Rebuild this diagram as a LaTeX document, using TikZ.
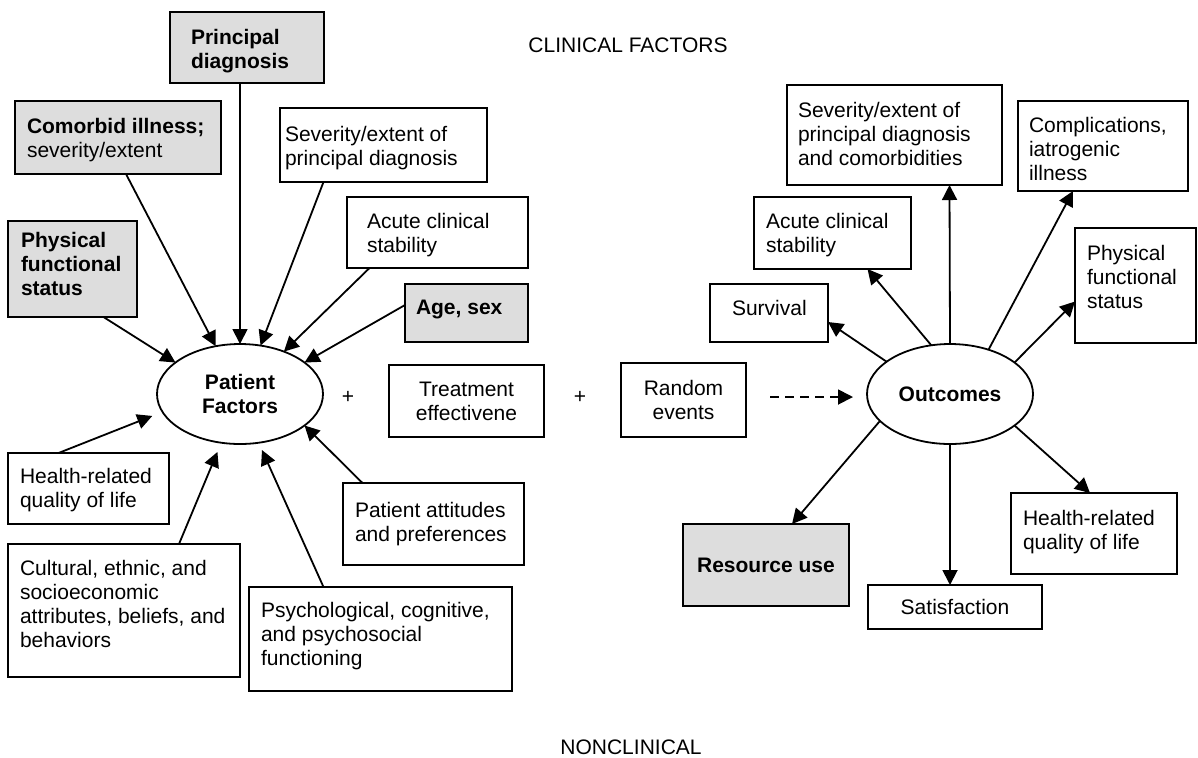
\documentclass[tikz,border=0pt]{standalone}
\usepackage{fontspec}
\setmainfont{Liberation Sans}
\usepackage{xcolor}
\definecolor{boxgray}{HTML}{DDDDDD}
\definecolor{ink}{HTML}{000000}
\usetikzlibrary{calc,arrows.meta,shapes.geometric}
\newcommand{\bxfont}{\fontsize{10.5}{12.05}\selectfont}

\begin{document}
\begin{tikzpicture}[
		x=0.5pt, y=-0.5pt,
		>={Triangle[length=7.5pt,width=7.5pt]},
		% text box: width, height, left pad, top pad (all in px)
		txtbox/.style n args={4}{draw=ink, line width=1pt, anchor=north west, inner xsep=0pt, inner ysep={#4*0.5pt}, outer sep=0pt,
			execute at begin node={\begin{minipage}[c][\dimexpr(#2pt-#4pt-#4pt)/2\relax][t]{\dimexpr#1pt/2\relax}\bxfont\raggedright\leftskip=\dimexpr#3pt/2\relax},
			execute at end node={\end{minipage}}},
		cbox/.style 2 args={draw=ink, line width=1pt, anchor=north west, inner sep=0pt, outer sep=0pt,
			minimum width={#1*0.5pt}, minimum height={#2*0.5pt}, align=center, font=\bxfont},
		grayfill/.style={fill=boxgray},
		oval/.style={draw=ink, ellipse, line width=0.9pt, minimum width=83pt, minimum height=50pt, inner sep=0pt, outer sep=0pt, align=center, font=\bxfont\bfseries},
		link/.style={->, line width=0.9pt, ink},
		plain/.style={font=\bxfont, inner sep=0pt}
	]
		\useasboundingbox (0,0) rectangle (1198,757);

		% Headings
		\node[plain] (clin) at (628,45) {CLINICAL FACTORS};
		\node[plain] (nonclin) at (631,747) {NONCLINICAL};

		% Patient factors side
		\node[txtbox={154}{71}{21}{17}, grayfill] (pd) at (170,12) {\textbf{Principal\\diagnosis}};
		\node[txtbox={206}{73}{12}{17}, grayfill] (cm) at (15,101) {\textbf{Comorbid illness;}\\severity/extent};
		\node[txtbox={207}{74}{5}{18}] (sl) at (280,108) {Severity/extent of\\principal diagnosis};
		\node[txtbox={129}{96}{13}{11}, grayfill] (pl) at (8,221) {\textbf{Physical\\functional\\status}};
		\node[txtbox={181}{71}{20}{16}] (al) at (347,197) {Acute clinical\\stability};
		\node[txtbox={123}{58}{11}{16}, grayfill] (ag) at (405,284) {\textbf{Age, sex}};
		\node[txtbox={161}{71}{12}{15}] (hl) at (8,453) {Health-related\\quality of life};
		\node[txtbox={181}{82}{12}{19}] (pa) at (343,483) {Patient attitudes\\and preferences};
		\node[txtbox={232}{133}{12}{16}] (cu) at (8,544) {Cultural, ethnic, and\\socioeconomic\\attributes, beliefs, and\\behaviors};
		\node[txtbox={263}{104}{12}{15}] (ps) at (249,587) {Psychological, cognitive,\\and psychosocial\\functioning};
		\node[oval] (pf) at (240,394) {Patient\\Factors};

		% Middle terms
		\node[plain] (plusa) at (348,397) {+};
		\node[cbox={155}{72}] (tr) at (389,365) {Treatment\\effectivene};
		\node[plain] (plusb) at (580,397) {+};
		\node[cbox={125}{74}] (re) at (621,363) {Random\\events};

		% Outcomes side
		\node[oval] (oc) at (950,394) {Outcomes};
		\node[txtbox={215}{100}{11}{17}] (sr) at (787,85) {Severity/extent of\\principal diagnosis\\and comorbidities};
		\node[txtbox={170}{90}{11}{16}] (co) at (1018,101) {Complications,\\iatrogenic\\illness};
		\node[txtbox={157}{72}{12}{16}] (ar) at (754,197) {Acute clinical\\stability};
		\node[txtbox={118}{58}{22}{16}] (su) at (710,284) {Survival};
		\node[txtbox={121}{115}{12}{17}] (pr) at (1075,228) {Physical\\functional\\status};
		\node[cbox={166}{82}, grayfill, font=\bxfont\bfseries] (ru) at (683,524) {Resource use};
		\node[cbox={174}{44}] (sa) at (868,585) {Satisfaction};
		\node[txtbox={166}{81}{12}{17}] (hr) at (1011,493) {Health-related\\quality of life};

		% Arrows into patient factors
		\draw[link] ($(pd.south)+(-7,0)$) -- (pf.north);
		\draw[link] ($(cm.south)+(8,0)$) -- (pf.117);
		\draw[link] ($(sl.south)+(-60,0)$) -- (pf.67);
		\draw[link] ($(al.south)+(-68,0)$) -- (pf.44);
		\draw[link] ($(ag.west)+(0,-8)$) -- (pf.26);
		\draw[link] ($(pl.south)+(31,0)$) -- (pf.154);
		\draw[link, shorten >=5.5pt] ($(hl.north)+(-30,0)$) -- (pf.193);
		\draw[link, shorten >=5pt] ($(cu.north)+(55,0)$) -- (pf.249);
		\draw[link, shorten >=4pt] ($(ps.north)+(-57,0)$) -- (pf.291);
		\draw[link] ($(pa.north)+(-71,0)$) -- (pf.334);

		% Random events lead to outcomes
		\draw[link, dash pattern=on 4.5pt off 3pt] ($(re.east)+(24,-3)$) -- ($(oc.west)+(-14,3)$);

		% Arrows out of outcomes
		\draw[link] (oc.north) -- ($(sr.south)+(55,0)$);
		\draw[link] (oc.111) -- ($(ar.south)+(35,0)$);
		\draw[link] (oc.153) -- ($(su.east)+(0,9)$);
		\draw[link] (oc.49) -- ($(co.south)+(-30,0)$);
		\draw[link] (oc.26) -- ($(pr.west)+(0,16)$);
		\draw[link] (oc.201) -- ($(ru.north)+(26,0)$);
		\draw[link] (oc.south) -- ($(sa.north)+(-5,0)$);
		\draw[link] (oc.334) -- ($(hr.north)+(-4,0)$);
	\end{tikzpicture}
\end{document}
